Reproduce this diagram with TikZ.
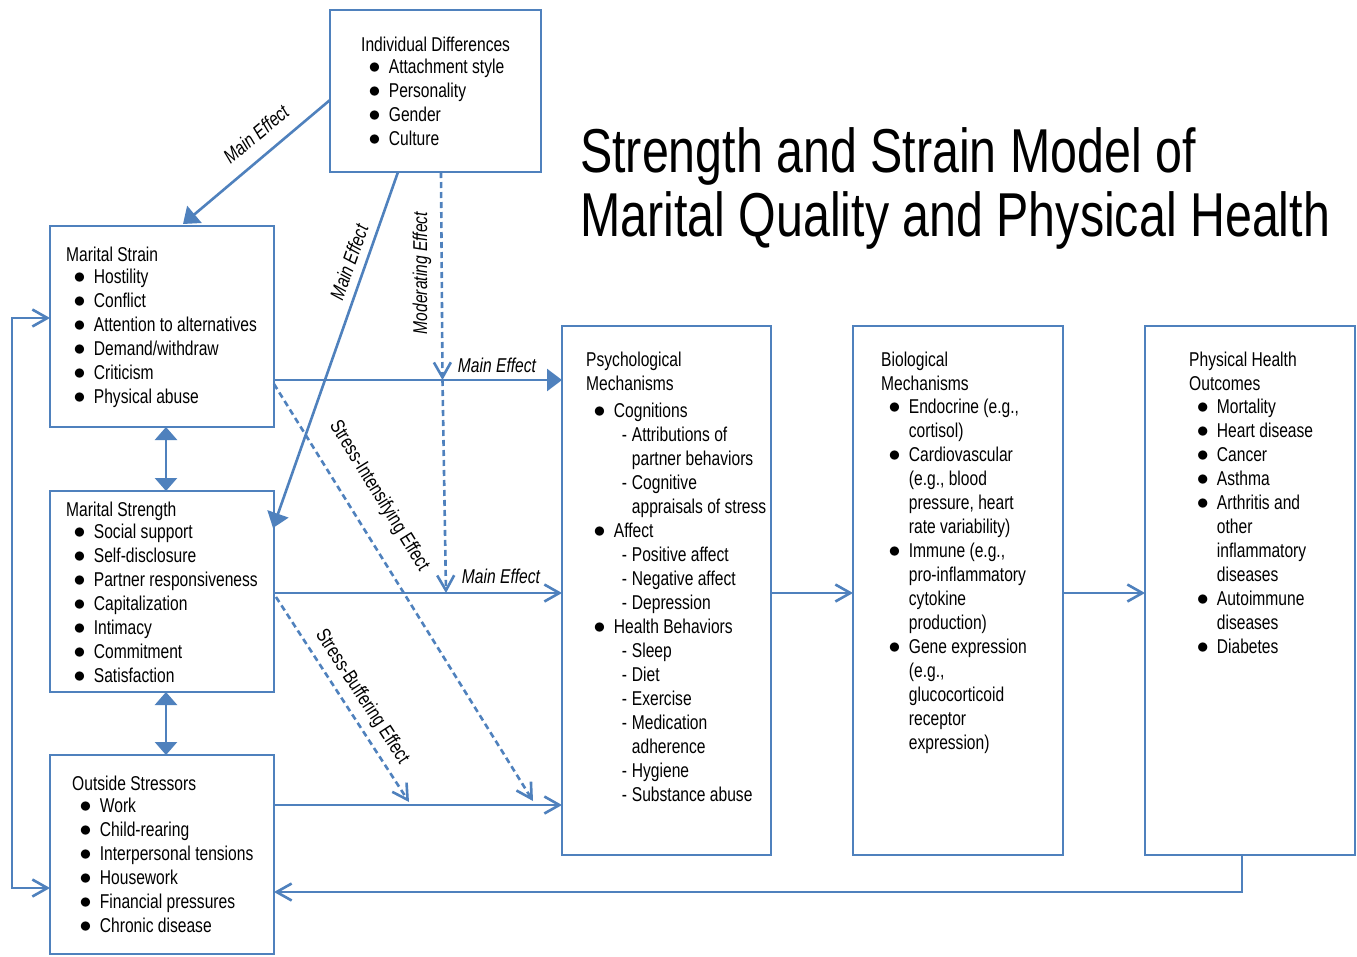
\documentclass[tikz,border=0pt]{standalone}
\usepackage{fontspec}
\usepackage{graphicx}
\setmainfont{Liberation Sans}[FakeStretch=0.78]
\usetikzlibrary{arrows.meta,calc}
\definecolor{blu}{HTML}{4F81BD}
\newcommand{\bodyfont}{\fontsize{20pt}{24pt}\selectfont}
\newcommand{\mybul}[1]{\hspace*{13.5pt}\makebox[0pt]{\scalebox{1.15}{$\bullet$}}\hspace*{14.2pt}#1}
\newcommand{\mycont}[1]{\hspace*{27.7pt}#1}
\newcommand{\mysub}[1]{\hspace*{35.7pt}\makebox[10pt][l]{-}#1}
\newcommand{\mysubc}[1]{\hspace*{45.7pt}#1}
\begin{document}
\begin{tikzpicture}[x=1pt,y=-1pt,
  box/.style={draw=blu, line width=2.8pt, rectangle, inner sep=0pt, outer sep=0pt, anchor=north west},
  txt/.style={anchor=base west, align=left, inner sep=0pt, font=\bodyfont},
  conn/.style={draw=blu, line width=2.6pt},
  fa/.style={conn, -{Triangle[length=15pt,width=22pt]}},
  fab/.style={conn, {Triangle[length=13pt,width=22pt]}-{Triangle[length=13pt,width=22pt]}},
  oa/.style={conn, -{Straight Barb[length=15pt,width=17pt]}},
  oab/.style={conn, {Straight Barb[length=15pt,width=17pt]}-{Straight Barb[length=15pt,width=17pt]}},
  dsh/.style={dash pattern=on 6pt off 4pt},
  lbl/.style={font={\bodyfont\itshape}, inner sep=0pt},
  lblu/.style={font=\bodyfont, inner sep=0pt}]
\fill[white] (0,0) rectangle (1357,956);
\useasboundingbox (0,0) rectangle (1357,956);

% boxes
\node[box, minimum width=211pt, minimum height=162pt] (ind) at (330,10) {};
\node[box, minimum width=224pt, minimum height=201pt] (strain) at (50,226) {};
\node[box, minimum width=224pt, minimum height=201pt] (strength) at (50,491) {};
\node[box, minimum width=224pt, minimum height=199pt] (outside) at (50,755) {};
\node[box, minimum width=209pt, minimum height=529pt] (psych) at (562,326) {};
\node[box, minimum width=210pt, minimum height=529pt] (bio) at (853,326) {};
\node[box, minimum width=210pt, minimum height=529pt] (phys) at (1145,326) {};

% title (anchor = baseline of last line)
\node[anchor=base west, align=left, inner sep=0pt, font=\fontsize{62pt}{64pt}\selectfont] (title) at (580,236)
  {Strength and Strain Model of\\Marital Quality and Physical Health};

% box texts (anchor = baseline of last line)
\node[txt] (indT) at (361,145) {Individual Differences\\[-2pt]
\mybul{Attachment style}\\
\mybul{Personality}\\
\mybul{Gender}\\
\mybul{Culture}};

\node[txt] (strainT) at (66,403) {Marital Strain\\[-2pt]
\mybul{Hostility}\\
\mybul{Conflict}\\
\mybul{Attention to alternatives}\\
\mybul{Demand/withdraw}\\
\mybul{Criticism}\\
\mybul{Physical abuse}};

\node[txt] (strengthT) at (66,682) {Marital Strength\\[-2pt]
\mybul{Social support}\\
\mybul{Self-disclosure}\\
\mybul{Partner responsiveness}\\
\mybul{Capitalization}\\
\mybul{Intimacy}\\
\mybul{Commitment}\\
\mybul{Satisfaction}};

\node[txt] (outsideT) at (72,932) {Outside Stressors\\[-2pt]
\mybul{Work}\\
\mybul{Child-rearing}\\
\mybul{Interpersonal tensions}\\
\mybul{Housework}\\
\mybul{Financial pressures}\\
\mybul{Chronic disease}};

\node[txt] (psychT) at (586,801) {Psychological\\
Mechanisms\\[3pt]
\mybul{Cognitions}\\
\mysub{Attributions of}\\
\mysubc{partner behaviors}\\
\mysub{Cognitive}\\
\mysubc{appraisals of stress}\\
\mybul{Affect}\\
\mysub{Positive affect}\\
\mysub{Negative affect}\\
\mysub{Depression}\\
\mybul{Health Behaviors}\\
\mysub{Sleep}\\
\mysub{Diet}\\
\mysub{Exercise}\\
\mysub{Medication}\\
\mysubc{adherence}\\
\mysub{Hygiene}\\
\mysub{Substance abuse}};

\node[txt] (bioT) at (881,749) {Biological\\
Mechanisms\\[-1pt]
\mybul{Endocrine (e.g.,}\\
\mycont{cortisol)}\\
\mybul{Cardiovascular}\\
\mycont{(e.g., blood}\\
\mycont{pressure, heart}\\
\mycont{rate variability)}\\
\mybul{Immune (e.g.,}\\
\mycont{pro-inflammatory}\\
\mycont{cytokine}\\
\mycont{production)}\\
\mybul{Gene expression}\\
\mycont{(e.g.,}\\
\mycont{glucocorticoid}\\
\mycont{receptor}\\
\mycont{expression)}};

\node[txt] (physT) at (1189,653) {Physical Health\\
Outcomes\\[-1pt]
\mybul{Mortality}\\
\mybul{Heart disease}\\
\mybul{Cancer}\\
\mybul{Asthma}\\
\mybul{Arthritis and}\\
\mycont{other}\\
\mycont{inflammatory}\\
\mycont{diseases}\\
\mybul{Autoimmune}\\
\mycont{diseases}\\
\mybul{Diabetes}};

% helper coordinates
\coordinate (yA) at (0,380);
\coordinate (yB) at (0,593);
\coordinate (yC) at (0,805);
\coordinate (yF) at (0,892);
\coordinate (yL1) at (0,318);
\coordinate (yL2) at (0,888);
\coordinate (lx) at (12,0);
\coordinate (m1) at (442.5,380);
\coordinate (m2) at (446,593);
\coordinate (si) at (533,801);
\coordinate (sb) at (409,802);

% connectors
\draw[fa] ($(ind.north west)+(0,90)$) -- ($(strain.north)+(21,-2)$);
\draw[fa] ($(ind.south west)+(68,0)$) -- ($(strength.north east)+(-1,37)$);
\draw[oa,dsh] ($(ind.south west)+(111,0)$) -- (m1);
\draw[oa,dsh] (m1) -- (m2);
\draw[fa] (strain.east |- yA) -- (psych.west |- yA);
\draw[oa] (strength.east |- yB) -- (psych.west |- yB);
\draw[oa] (outside.east |- yC) -- (psych.west |- yC);
\draw[oa] (psych.east |- yB) -- (bio.west |- yB);
\draw[oa] (bio.east |- yB) -- (phys.west |- yB);
\draw[oa,dsh] ($(strain.east |- yA)+(0,4)$) -- (si);
\draw[oa,dsh] ($(strength.east |- yB)+(2,4)$) -- (sb);
\draw[oa] ($(phys.south)+(-8,0)$) |- (outside.east |- yF);
\draw[oab] (strain.west |- yL1) -- (lx |- yL1) -- (lx |- yL2) -- (outside.west |- yL2);
\draw[fab] ($(strain.south)+(4,0)$) -- ($(strength.north)+(4,0)$);
\draw[fab] ($(strength.south)+(4,0)$) -- ($(outside.north)+(4,0)$);

% labels
\node[lbl, rotate=39.7] (l1) at (256,134) {Main Effect};
\node[lbl, rotate=70.5] (l2) at (349,262) {Main Effect};
\node[lbl, rotate=90] (l3) at (422,273) {Moderating Effect};
\node[lbl] (l4) at (497,365) {Main Effect};
\node[lbl] (l5) at (501,576) {Main Effect};
\node[lblu, rotate=-58.3] (l6) at (379,496) {Stress-Intensifying Effect};
\node[lblu, rotate=-57] (l7) at (362,697) {Stress-Buffering Effect};
\end{tikzpicture}
\end{document}
